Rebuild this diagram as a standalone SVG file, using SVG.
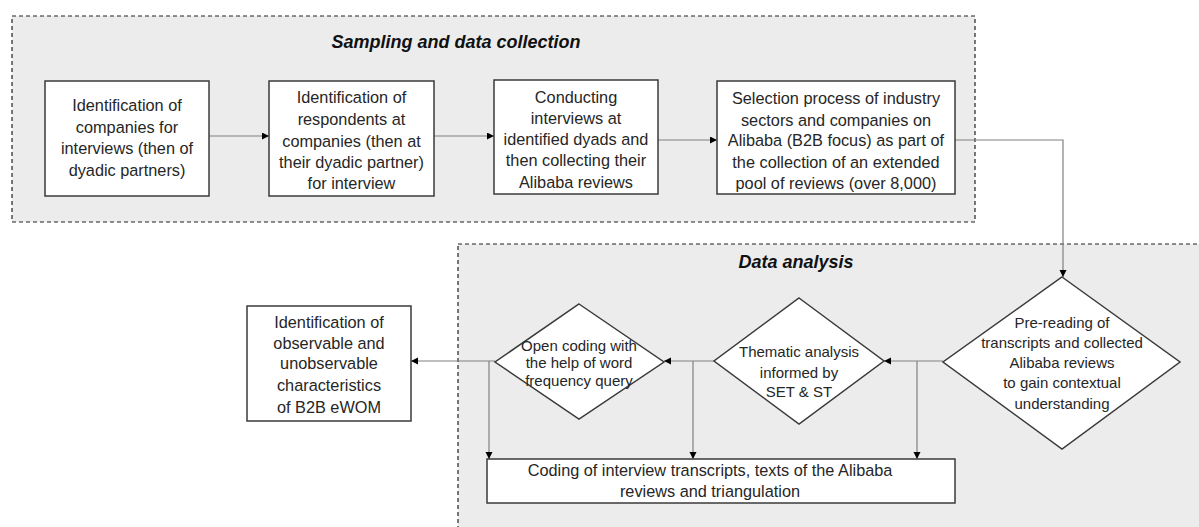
<svg xmlns="http://www.w3.org/2000/svg" width="1199" height="527" viewBox="0 0 1199 527">
<style>
.bg{fill:#ffffff}
.region{fill:#ececec;stroke:#222;stroke-width:1.2;stroke-dasharray:4 3}
.box{fill:#ffffff;stroke:#3a3a3a;stroke-width:1.5}
.t{font-family:"Liberation Sans",Arial,sans-serif;font-size:16.3px;fill:#262626;text-anchor:middle}
.td{font-family:"Liberation Sans",Arial,sans-serif;font-size:15px;fill:#262626;text-anchor:middle}
.title{font-family:"Liberation Sans",Arial,sans-serif;font-size:18px;font-weight:bold;font-style:italic;fill:#111;text-anchor:middle}
.c{fill:none;stroke:#808080;stroke-width:1.2}
</style>
<defs>
<marker id="ah" markerUnits="userSpaceOnUse" markerWidth="8" markerHeight="8" refX="7" refY="3.5" orient="auto">
<path d="M0,0 L7,3.5 L0,7 z" fill="#000"/>
</marker>
</defs>
<rect class="bg" x="0" y="0" width="1199" height="527"/>
<g id="region-sampling">
<rect class="region" x="12" y="16" width="963" height="206"/>
<text class="title" x="456" y="48">Sampling and data collection</text>
</g>
<g id="region-analysis">
<rect class="region" x="458" y="244" width="760" height="300"/>
<text class="title" x="796" y="268">Data analysis</text>
</g>
<g id="connectors">
<line class="c" x1="209" y1="136" x2="269" y2="136" marker-end="url(#ah)"/>
<line class="c" x1="434" y1="136" x2="494" y2="136" marker-end="url(#ah)"/>
<line class="c" x1="658" y1="140" x2="717" y2="140" marker-end="url(#ah)"/>
<path class="c" d="M955,140 H1063 V277" marker-end="url(#ah)"/>
<line class="c" x1="943" y1="361" x2="884" y2="361" marker-end="url(#ah)"/>
<line class="c" x1="917" y1="361" x2="917" y2="459" marker-end="url(#ah)"/>
<line class="c" x1="714" y1="361" x2="664" y2="361" marker-end="url(#ah)"/>
<line class="c" x1="693" y1="361" x2="693" y2="459" marker-end="url(#ah)"/>
<line class="c" x1="495" y1="361" x2="411" y2="361" marker-end="url(#ah)"/>
<line class="c" x1="489" y1="361" x2="489" y2="459" marker-end="url(#ah)"/>
</g>
<g id="node-identify-companies">
<rect class="box" x="45" y="81" width="164" height="115"/>
<text class="t" x="127" y="111">Identification of</text>
<text class="t" x="127" y="133">companies for</text>
<text class="t" x="127" y="154">interviews (then of</text>
<text class="t" x="127" y="176">dyadic partners)</text>
</g>
<g id="node-identify-respondents">
<rect class="box" x="269" y="81" width="165" height="115"/>
<text class="t" x="351.5" y="103">Identification of</text>
<text class="t" x="351.5" y="125">respondents at</text>
<text class="t" x="351.5" y="147">companies (then at</text>
<text class="t" x="351.5" y="168">their dyadic partner)</text>
<text class="t" x="351.5" y="189">for interview</text>
</g>
<g id="node-conducting">
<rect class="box" x="494" y="80" width="164" height="114"/>
<text class="t" x="576" y="103">Conducting</text>
<text class="t" x="576" y="124">interviews at</text>
<text class="t" x="576" y="145">identified dyads and</text>
<text class="t" x="576" y="166">then collecting their</text>
<text class="t" x="576" y="188">Alibaba reviews</text>
</g>
<g id="node-selection">
<rect class="box" x="717" y="81" width="238" height="113"/>
<text class="t" x="836" y="104">Selection process of industry</text>
<text class="t" x="836" y="126">sectors and companies on</text>
<text class="t" x="836" y="146">Alibaba (B2B focus) as part of</text>
<text class="t" x="836" y="168">the collection of an extended</text>
<text class="t" x="836" y="189">pool of reviews (over 8,000)</text>
</g>
<g id="node-prereading">
<polygon class="box" points="1062,277 1180,362 1062,449 943,362"/>
<text class="td" x="1062" y="328">Pre-reading of</text>
<text class="td" x="1062" y="348">transcripts and collected</text>
<text class="td" x="1062" y="368">Alibaba reviews</text>
<text class="td" x="1062" y="388">to gain contextual</text>
<text class="td" x="1062" y="409">understanding</text>
</g>
<g id="node-thematic">
<polygon class="box" points="799,298 884,361 799,424 714,361"/>
<text class="td" x="799" y="357">Thematic analysis</text>
<text class="td" x="799" y="378">informed by</text>
<text class="td" x="799" y="397">SET &amp; ST</text>
</g>
<g id="node-open-coding">
<polygon class="box" points="579,304 664,362 579,419 495,362"/>
<text class="td" x="579" y="351">Open coding with</text>
<text class="td" x="579" y="368">the help of word</text>
<text class="td" x="579" y="386">frequency query</text>
</g>
<g id="node-identification-characteristics">
<rect class="box" x="247" y="306" width="164" height="115"/>
<text class="t" x="329" y="328">Identification of</text>
<text class="t" x="329" y="349">observable and</text>
<text class="t" x="329" y="369">unobservable</text>
<text class="t" x="329" y="391">characteristics</text>
<text class="t" x="329" y="413">of B2B eWOM</text>
</g>
<g id="node-coding">
<rect class="box" x="487" y="459" width="468" height="44"/>
<text class="t" x="710" y="476">Coding of interview transcripts, texts of the Alibaba</text>
<text class="t" x="710" y="497">reviews and triangulation</text>
</g>
</svg>
